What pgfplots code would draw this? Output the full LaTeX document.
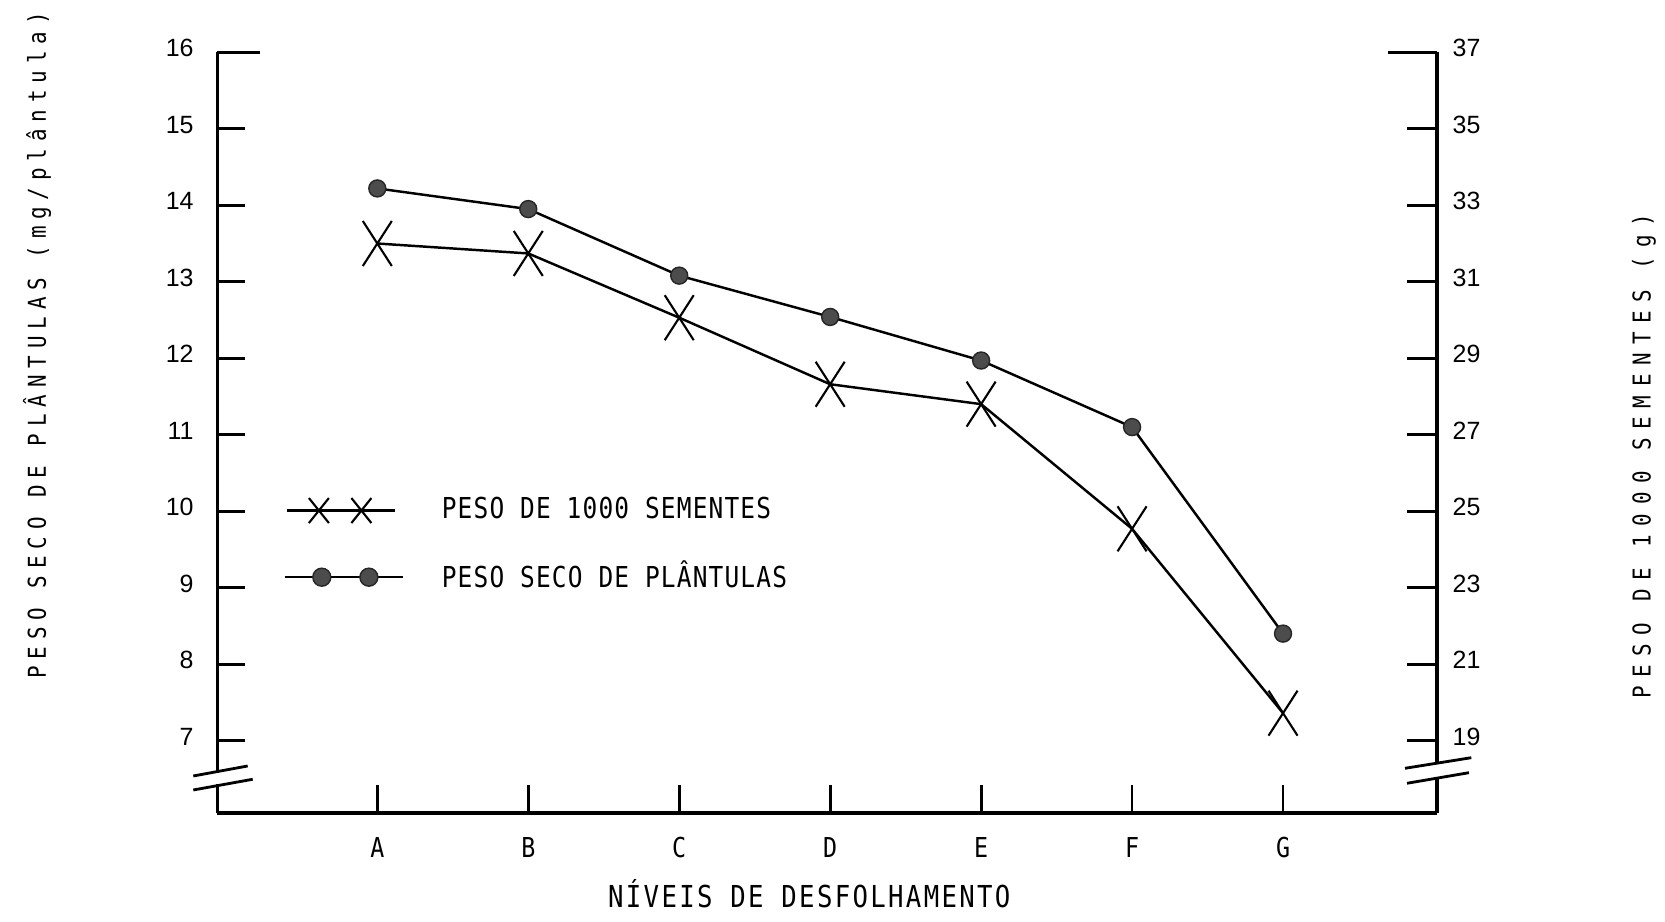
\documentclass[border=0pt]{standalone}
\usepackage{fontspec}
\usepackage{pgfplots}
\pgfplotsset{compat=1.18}
\setmainfont{DejaVu Sans Mono}
\newfontfamily\numfont{Liberation Sans}
\newfontfamily\legfont[FakeStretch=0.85,LetterSpace=4]{DejaVu Sans Mono}
\newfontfamily\xlfont[FakeStretch=0.85,LetterSpace=7.7]{DejaVu Sans Mono}
\newfontfamily\tickfont[FakeStretch=0.85]{DejaVu Sans Mono}
\newfontfamily\ylfont[FakeStretch=0.85,LetterSpace=28]{DejaVu Sans Mono}
\newfontfamily\yrfont[FakeStretch=0.85,LetterSpace=34.5]{DejaVu Sans Mono}

\pgfdeclareplotmark{tallx}{%
  \pgfpathmoveto{\pgfpoint{-1.45mm}{-2.25mm}}\pgfpathlineto{\pgfpoint{1.45mm}{2.25mm}}%
  \pgfpathmoveto{\pgfpoint{-1.45mm}{2.25mm}}\pgfpathlineto{\pgfpoint{1.45mm}{-2.25mm}}%
  \pgfusepathqstroke}
\pgfdeclareplotmark{legx}{%
  \pgfpathmoveto{\pgfpoint{-1.0mm}{-1.25mm}}\pgfpathlineto{\pgfpoint{1.0mm}{1.25mm}}%
  \pgfpathmoveto{\pgfpoint{-1.0mm}{1.25mm}}\pgfpathlineto{\pgfpoint{1.0mm}{-1.25mm}}%
  \pgfusepathqstroke}

\begin{document}
\begin{tikzpicture}
\useasboundingbox (-21.73mm,-10.9mm) rectangle (144.77mm,81.3mm);
\begin{axis}[
  scale only axis, width=121.97mm, height=76.07mm,
  xmin=-1.06, xmax=7.02, ymin=6.055, ymax=16,
  axis x line*=bottom, axis y line*=left,
  axis line style={line width=0.9pt, black},
  xtick={0,1,2,3,4,5,6}, xticklabels={A,B,C,D,E,F,G},
  ytick={7,8,9,10,11,12,13,14,15,16},
  tick align=inside, major tick length=2.8mm,
  tick style={line width=0.8pt, black},
  xticklabel style={font=\tickfont\fontsize{7.8}{9}\selectfont, anchor=center, yshift=-3.45mm, inner sep=0pt},
  yticklabel style={font=\numfont\fontsize{7.1}{8}\selectfont, anchor=east, inner sep=0pt, xshift=-2.3mm, yshift=0.4mm},
  /pgf/number format/assume math mode=true,
  legend style={at={(rel axis cs:0.0541,0.4151)}, anchor=north west, draw=none, fill=none,
    inner sep=0pt, outer sep=0pt, row sep=3.73mm, column sep=3.74mm,
    font=\legfont\fontsize{8.2}{9}\selectfont, nodes={inner sep=0pt}},
  legend cell align=left,
  clip=false,
]
\addlegendimage{legend image code/.code={
  \draw[line width=0.7pt] (0.23mm,0mm) -- (11.02mm,0mm);
  \draw[line width=0.6pt] plot[only marks, mark=legx] coordinates {(3.44mm,0mm) (7.69mm,0mm)};
}}
\addlegendentry{PESO DE 1000 SEMENTES}
\addlegendimage{legend image code/.code={
  \draw[line width=0.7pt] (0mm,0mm) -- (11.87mm,0mm);
  \draw[line width=0.4pt, draw=black!85, fill=black!70] plot[only marks, mark=*, mark size=0.9mm] coordinates {(3.73mm,0mm) (8.44mm,0mm)};
}}
\addlegendentry{PESO SECO DE PLÂNTULAS}
\addplot[line width=0.7pt, black, mark=*, mark size=0.85mm,
  mark options={fill=black!70, draw=black!85, line width=0.4pt}]
  coordinates {(0,14.22) (1,13.95) (2,13.08) (3,12.54) (4,11.97) (5,11.10) (6,8.40)};
\end{axis}
\begin{axis}[
  scale only axis, width=121.97mm, height=76.07mm,
  xmin=-1.06, xmax=7.02, ymin=17.11, ymax=37,
  axis x line=none, axis y line*=right,
  axis line style={line width=0.9pt, black},
  ytick={19,21,23,25,27,29,31,33,35,37},
  tick align=inside, major tick length=3.0mm,
  tick style={line width=0.8pt, black},
  yticklabel style={font=\numfont\fontsize{7.1}{8}\selectfont, anchor=west, inner sep=0pt, xshift=1.5mm, yshift=0.4mm},
  /pgf/number format/assume math mode=true,
  clip=false,
]
\addplot[line width=0.7pt, black, mark=tallx, mark options={line width=0.6pt}]
  coordinates {(0,32.0) (1,31.74) (2,30.06) (3,28.32) (4,27.8) (5,24.54) (6,19.72)};
\end{axis}
% longer top ticks
\draw[line width=0.8pt] (0mm,76.07mm) -- (4.3mm,76.07mm);
\draw[line width=0.8pt] (121.97mm,76.07mm) -- (117.07mm,76.07mm);
% axis breaks
\fill[white] (-0.6mm,2.85mm) rectangle (0.6mm,4.0mm);
\draw[line width=0.8pt] (-2.4mm,3.7mm) -- (3.04mm,4.7mm);
\draw[line width=0.8pt] (-2.4mm,2.3mm) -- (3.54mm,3.37mm);
\fill[white] (121.37mm,3.6mm) rectangle (122.57mm,4.85mm);
\draw[line width=0.8pt] (118.77mm,4.47mm) -- (125.4mm,5.53mm);
\draw[line width=0.8pt] (118.97mm,2.97mm) -- (125.17mm,4.03mm);
% axis titles
\node[rotate=90, font=\ylfont\fontsize{7.0}{8}\selectfont] at (-18.03mm,46.75mm) {PESO SECO DE PLÂNTULAS (mg/plântula)};
\node[rotate=90, font=\yrfont\fontsize{7.0}{8}\selectfont] at (142.67mm,35.65mm) {PESO DE 1000 SEMENTES (g)};
\node[anchor=base, font=\xlfont\fontsize{8.6}{10}\selectfont] at (59.2mm,-9.5mm) {NÍVEIS DE DESFOLHAMENTO};
\end{tikzpicture}
\end{document}
